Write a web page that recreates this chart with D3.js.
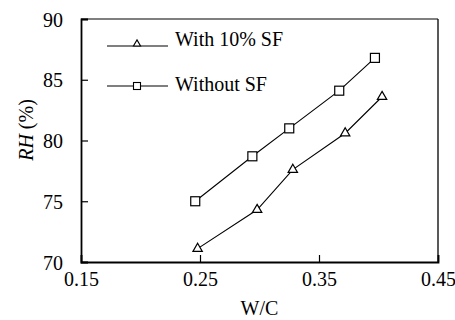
<!DOCTYPE html>
<html>
<head>
<meta charset="utf-8">
<script src="https://cdn.jsdelivr.net/npm/d3@7"></script>
<style>
  html, body { margin: 0; padding: 0; background: #fff; }
  svg { display: block; }
  svg text { font-family: "Liberation Serif", "Times New Roman", Times, Tinos, "DejaVu Serif", serif !important; fill: #000; }
</style>
</head>
<body>
<svg id="chart" width="455" height="320"></svg>
<script>
// ---- Data ----
const seriesNames = ["With 10% SF", "Without SF"];
const wcWithSF = [0.248, 0.298, 0.328, 0.372, 0.403];
const rhWithSF = [71.1, 74.3, 77.6, 80.6, 83.6];
const wcWithoutSF = [0.246, 0.294, 0.325, 0.367, 0.397];
const rhWithoutSF = [75.0, 78.7, 81.0, 84.1, 86.8];
const xTicks = [0.15, 0.25, 0.35, 0.45];
const yTicks = [70, 75, 80, 85, 90];

// ---- Layout ----
const W = 455, H = 320;
const m = { left: 81, right: 17, top: 19, bottom: 58 };
const svg = d3.select("#chart");
const x = d3.scaleLinear().domain([0.15, 0.45]).range([m.left, W - m.right]);
const y = d3.scaleLinear().domain([70, 90]).range([H - m.bottom, m.top]);
const FS = 20;
const FF = '"Liberation Serif", "Times New Roman", Times, Tinos, "DejaVu Serif", serif';

// Frame: top (gray) and right borders
svg.append("line").attr("x1", x(0.15)).attr("x2", x(0.45)).attr("y1", y(90)).attr("y2", y(90))
  .attr("stroke", "#555").attr("stroke-width", 1.6);
svg.append("line").attr("x1", x(0.45)).attr("x2", x(0.45)).attr("y1", y(90)).attr("y2", y(70))
  .attr("stroke", "#000").attr("stroke-width", 1.3);

// Axes
const yAxis = svg.append("g").attr("transform", `translate(${x(0.15)},0)`)
  .call(d3.axisLeft(y).tickValues(yTicks).tickSize(-7).tickPadding(18).tickFormat(d3.format("d")));
const xAxis = svg.append("g").attr("transform", `translate(0,${y(70)})`)
  .call(d3.axisBottom(x).tickValues(xTicks).tickSize(-7).tickPadding(10).tickFormat(d3.format(".2f")));
[yAxis, xAxis].forEach(g => {
  g.attr("font-family", FF).attr("font-size", FS);
  g.select(".domain").attr("stroke", "#000").attr("stroke-width", 1.8);
  g.selectAll(".tick line").attr("stroke", "#000").attr("stroke-width", 1.2);
  g.selectAll(".tick text").attr("fill", "#000");
});
yAxis.selectAll(".tick text").attr("dy", "0.35em");
xAxis.selectAll(".tick text").attr("dy", "0.71em");

// Axis titles
svg.append("text").attr("x", x(0.30)).attr("y", 315).attr("text-anchor", "middle")
  .attr("font-family", FF).attr("font-size", FS).text("W/C");
const yl = svg.append("text").attr("transform", `translate(33,${130}) rotate(-90)`)
  .attr("text-anchor", "middle").attr("font-family", FF).attr("font-size", FS);
yl.append("tspan").attr("font-style", "italic").text("RH");
yl.append("tspan").text(" (%)");

// Series
const line = d3.line().x(d => x(d[0])).y(d => y(d[1]));
const triPts = wcWithSF.map((v, i) => [v, rhWithSF[i]]);
const sqPts = wcWithoutSF.map((v, i) => [v, rhWithoutSF[i]]);

svg.append("path").datum(triPts).attr("d", line).attr("fill", "none").attr("stroke", "#000").attr("stroke-width", 1.1);
svg.append("path").datum(sqPts).attr("d", line).attr("fill", "none").attr("stroke", "#000").attr("stroke-width", 1.1);

const triSym = d3.symbol().type(d3.symbolTriangle).size(38);
const triSmall = d3.symbol().type(d3.symbolTriangle).size(22);
svg.selectAll(".tri").data(triPts).enter().append("path")
  .attr("transform", d => `translate(${x(d[0])},${y(d[1])})`)
  .attr("d", triSym).attr("fill", "#fff").attr("stroke", "#000").attr("stroke-width", 1.2);
svg.selectAll(".sq").data(sqPts).enter().append("rect")
  .attr("x", d => x(d[0]) - 4.5).attr("y", d => y(d[1]) - 4.5)
  .attr("width", 9).attr("height", 9).attr("fill", "#fff").attr("stroke", "#000").attr("stroke-width", 1.2);

// Legend
const legRows = [
  { name: seriesNames[0], ly: 46, ty: 46, type: "tri" },
  { name: seriesNames[1], ly: 86, ty: 91, type: "sq" }
];
legRows.forEach(r => {
  svg.append("line").attr("x1", 107).attr("x2", 168).attr("y1", r.ly).attr("y2", r.ly)
    .attr("stroke", "#000").attr("stroke-width", 1.1);
  if (r.type === "tri") {
    svg.append("path").attr("transform", `translate(137,${r.ly - 2})`).attr("d", triSmall)
      .attr("fill", "#fff").attr("stroke", "#000").attr("stroke-width", 1.1);
  } else {
    svg.append("rect").attr("x", 133.5).attr("y", r.ly - 3.5).attr("width", 7).attr("height", 7)
      .attr("fill", "#fff").attr("stroke", "#000").attr("stroke-width", 1.1);
  }
  svg.append("text").attr("x", 175).attr("y", r.ty).attr("font-family", FF).attr("font-size", FS).text(r.name);
});
</script>
</body>
</html>
